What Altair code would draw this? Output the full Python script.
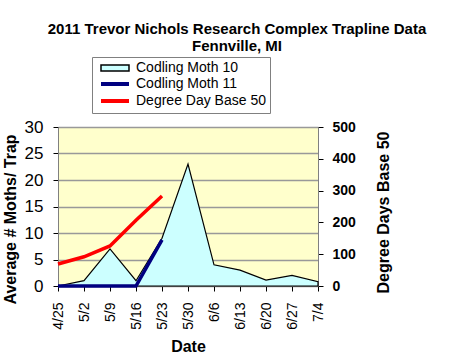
import altair as alt
import pandas as pd

dates = ["4/25", "5/2", "5/9", "5/16", "5/23", "5/30", "6/6", "6/13", "6/20", "6/27", "7/4"]
cm10 = [0, 1, 7, 1, 9, 23, 4, 3, 1.1, 2, 0.8]
cm11 = [0, 0, 0, 0, 8.7]
dd50 = [69, 92, 126, 207, 283]

series_names = ["Codling Moth 10", "Codling Moth 11", "Degree Day Base 50"]
series_colors = ["#000000", "#000080", "#FF0000"]

df10 = pd.DataFrame({"date": dates, "value": cm10, "series": series_names[0]})
df11 = pd.DataFrame({"date": dates[:len(cm11)], "value": cm11, "series": series_names[1]})
dfdd = pd.DataFrame({"date": dates[:len(dd50)], "value": dd50, "series": series_names[2]})

FONT = "Liberation Sans"

x_enc = alt.X(
    "date:N",
    sort=dates,
    scale=alt.Scale(domain=dates, padding=0),
    axis=alt.Axis(
        title="Date",
        titleFont=FONT, titleFontSize=16, titleFontWeight="bold", titleColor="black",
        labelFont=FONT, labelFontSize=14, labelColor="black", labelAngle=270,
        labelPadding=11, titlePadding=9,
        domainColor="#808080", tickColor="black", tickSize=5, grid=False,
    ),
)

stroke_scale = alt.Scale(domain=series_names, range=series_colors)

legend = alt.Legend(
    title=None,
    orient="none",
    legendX=34,
    legendY=-70,
    strokeColor="#808080",
    fillColor="white",
    padding=4,
    symbolOffset=12,
    labelFont=FONT,
    labelFontSize=14,
    labelColor="black",
    labelOffset=14,
    rowPadding=1,
    symbolSize=784,
    symbolType={"expr": "datum.value == 'Codling Moth 10' ? 'M-1,-0.22H1V0.22H-1Z' : 'M-1,0H1'"},
    symbolFillColor={"expr": "datum.value == 'Codling Moth 10' ? '#CCFFFF' : 'transparent'"},
    symbolStrokeWidth={"expr": "datum.value == 'Codling Moth 10' ? 1.5 : 4"},
)

left_axis = alt.Axis(
    title="Average # Moths/ Trap",
    values=[0, 5, 10, 15, 20, 25, 30],
    titleFont=FONT, titleFontSize=16, titleFontWeight="bold", titleColor="black",
    labelFont=FONT, labelFontSize=17, labelColor="black", labelPadding=10,
    titlePadding=6, titleY=92,
    domainColor="#808080", tickColor="black", tickSize=5,
    grid=True, gridColor="#999999", gridWidth=1.5,
)
left_y = alt.Y("value:Q", scale=alt.Scale(domain=[0, 30], nice=False), axis=left_axis)

area = alt.Chart(df10).mark_area(fill="#CCFFFF", fillOpacity=1, strokeWidth=1.2).encode(
    x=x_enc,
    y=left_y,
    stroke=alt.Stroke("series:N", scale=stroke_scale, legend=legend),
)

blue = alt.Chart(df11).mark_line(strokeWidth=3.5).encode(
    x=x_enc,
    y=left_y,
    stroke=alt.Stroke("series:N", scale=stroke_scale, legend=legend),
)

left = alt.layer(area, blue)

red = alt.Chart(dfdd).mark_line(strokeWidth=3.5).encode(
    x=x_enc,
    y=alt.Y(
        "value:Q",
        scale=alt.Scale(domain=[0, 500], nice=False),
        axis=alt.Axis(
            orient="right",
            title="Degree Days Base 50",
            values=[0, 100, 200, 300, 400, 500],
            titleAngle=270,
            titleFont=FONT, titleFontSize=16, titleFontWeight="bold", titleColor="black",
            labelFont=FONT, labelFontSize=14, labelFontWeight="bold", labelColor="black",
            labelPadding=9, titlePadding=36, titleY=85,
            domainColor="#808080", tickColor="black", tickSize=5, grid=False,
        ),
    ),
    stroke=alt.Stroke("series:N", scale=stroke_scale, legend=legend),
)

chart = (
    alt.layer(left, red)
    .resolve_scale(y="independent")
    .properties(
        width=260,
        height=159,
        autosize=alt.AutoSizeParams(type="none"),
        padding={"left": 58, "top": 127, "right": 132, "bottom": 70},
        background="white",
        title=alt.TitleParams(
            text=["2011 Trevor Nichols Research Complex Trapline Data", "Fennville, MI"],
            font=FONT, fontSize=15, fontWeight="bold", color="black",
            anchor="middle", dx=49, offset=3, lineHeight=17,
        ),
    )
    .configure_view(fill="#FFFFCC", stroke="#808080", strokeWidth=1)
)

chart.save("out.html", embed_options={"renderer": "svg", "actions": False})
